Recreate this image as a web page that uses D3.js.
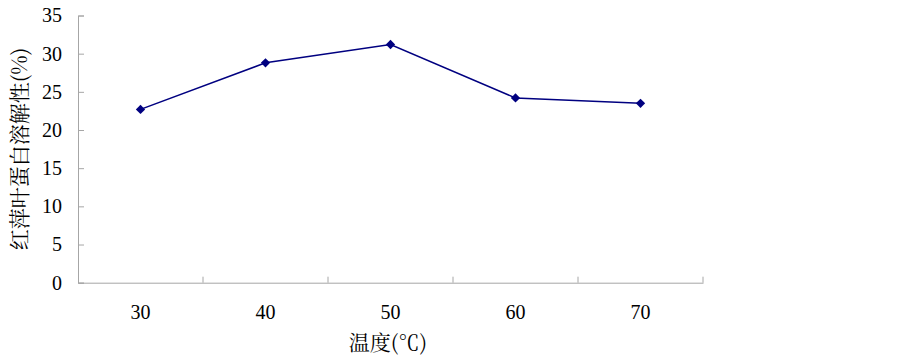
<!DOCTYPE html>
<html>
<head>
<meta charset="utf-8">
<script src="https://cdn.jsdelivr.net/npm/d3@7"></script>
<style>
  body { margin: 0; background: #fff; }
</style>
</head>
<body>
<div id="chart"></div>
<script>
// 温度 vs 红萍叶蛋白溶解性
const temps = ['30', '40', '50', '60', '70'];
const solubility = [22.7, 28.8, 31.2, 24.2, 23.5];
const yTicks = [0, 5, 10, 15, 20, 25, 30, 35];

const W = 903, H = 362;
const margin = { top: 15.5, right: 200, bottom: 79.3, left: 78 };
const w = W - margin.left - margin.right;
const h = H - margin.top - margin.bottom;
const axisColor = '#a6a6a6';
const lineColor = '#000080';
const numFont = 'Liberation Serif';
const cjkFont = 'Noto Serif CJK SC';

const svg = d3.select('#chart').append('svg')
    .attr('width', W)
    .attr('height', H);

const g = svg.append('g')
    .attr('transform', `translate(${margin.left},${margin.top})`);

const x = d3.scaleBand().domain(temps).range([0, w]);
const y = d3.scaleLinear().domain([0, 35]).range([h, 0]);

// y axis
const yAxis = g.append('g')
    .call(d3.axisLeft(y).tickValues(yTicks).tickSize(-6).tickPadding(16));
yAxis.attr('font-family', numFont).attr('font-size', 20);
yAxis.select('.domain').attr('stroke', axisColor);
yAxis.selectAll('.tick line').attr('stroke', axisColor);
yAxis.selectAll('.tick text')
    .attr('font-family', numFont)
    .attr('font-size', 20)
    .attr('fill', '#000');

// x axis: ticks sit on the band edges
const xAxis = g.append('g')
    .attr('transform', `translate(0,${h})`)
    .call(d3.axisBottom(x).tickSize(0).tickPadding(22));
xAxis.attr('font-family', numFont).attr('font-size', 20);
xAxis.select('.domain').attr('stroke', axisColor);
xAxis.selectAll('.tick text')
    .attr('font-family', numFont)
    .attr('font-size', 20)
    .attr('fill', '#000');

const edges = temps.map(t => x(t)).slice(1).concat([w]);
g.selectAll('.xedge')
    .data(edges)
    .enter()
    .append('line')
    .attr('class', 'xedge')
    .attr('x1', d => d).attr('x2', d => d)
    .attr('y1', h).attr('y2', h - 6)
    .attr('stroke', axisColor);

// line + markers
const cx = t => x(t) + x.bandwidth() / 2;
const line = d3.line()
    .x((d, i) => cx(temps[i]))
    .y(d => y(d));

g.append('path')
    .datum(solubility)
    .attr('d', line)
    .attr('fill', 'none')
    .attr('stroke', lineColor)
    .attr('stroke-width', 1.5);

g.selectAll('.pt')
    .data(solubility)
    .enter()
    .append('path')
    .attr('class', 'pt')
    .attr('d', d3.symbol().type(d3.symbolDiamond2).size(55))
    .attr('transform', (d, i) => `translate(${cx(temps[i])},${y(d)})`)
    .attr('fill', lineColor);

// axis titles
svg.append('text')
    .attr('x', 388)
    .attr('y', 350)
    .attr('text-anchor', 'middle')
    .attr('font-family', cjkFont)
    .attr('font-size', 21)
    .text('温度(℃)');

svg.append('text')
    .attr('transform', 'rotate(-90)')
    .attr('x', -149)
    .attr('y', 27)
    .attr('text-anchor', 'middle')
    .attr('font-family', cjkFont)
    .attr('font-size', 21)
    .text('红萍叶蛋白溶解性(%)');
</script>
</body>
</html>
